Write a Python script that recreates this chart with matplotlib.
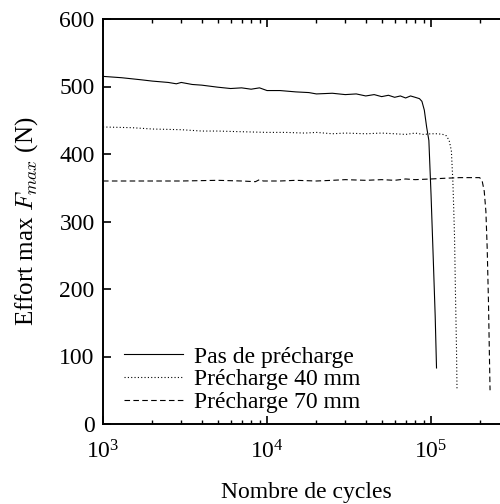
import matplotlib
matplotlib.use('Agg')
import matplotlib.pyplot as plt

plt.rcParams['font.family'] = 'Liberation Serif'
plt.rcParams['mathtext.fontset'] = 'cm'

# Pas de precharge
cyc_0 = [1000, 1300, 1700, 2000, 2500, 2800, 3000, 3500, 4000, 5000, 6000, 7000, 8000,
         9000, 10000, 12000, 15000, 18000, 20000, 25000, 30000, 35000, 40000, 45000,
         50000, 55000, 60000, 65000, 70000, 75000, 80000, 85000, 88000, 91000, 94000,
         97000, 100000, 103000, 106000, 108000]
eff_0 = [515, 513, 510, 508, 506, 504, 506, 503, 502, 499, 497, 498, 496, 498, 494, 494,
         492, 491, 489, 490, 488, 489, 486, 488, 485, 487, 484, 486, 483, 486, 484, 482,
         478, 465, 440, 420, 340, 250, 160, 83]

# Precharge 40 mm
cyc_40 = [1000, 1500, 2000, 3000, 4000, 5000, 7000, 10000, 13000, 17000, 20000, 25000,
          30000, 40000, 50000, 60000, 70000, 80000, 90000, 100000, 110000, 118000,
          124000, 129000, 133000, 136000, 139000, 141000, 143000, 144000]
eff_40 = [440, 439, 437, 436, 434, 434, 433, 432, 432, 431, 432, 430, 431, 430, 431, 430,
          429, 431, 429, 430, 430, 429, 427, 420, 405, 357, 280, 190, 110, 50]

# Precharge 70 mm
cyc_70 = [1000, 2000, 3000, 5000, 7000, 8500, 9000, 9500, 12000, 15000, 20000, 25000,
          30000, 40000, 50000, 60000, 70000, 80000, 100000, 120000, 150000, 180000,
          198000, 205000, 211000, 216000, 220000, 224000, 227000, 229000]
eff_70 = [360, 360, 360, 361, 360, 359, 362, 360, 360, 361, 360, 361, 362, 361, 362, 361,
          363, 362, 363, 364, 365, 365, 365, 360, 345, 315, 260, 180, 100, 50]

labels = ['Pas de précharge', 'Précharge 40 mm', 'Précharge 70 mm']

fig = plt.figure(figsize=(5, 5.04), dpi=100)
ax = fig.add_axes([103/500, 80/504, 407/500, 405/504])

ax.plot(cyc_0, eff_0, color='black', lw=0.8, ls='-', label=labels[0])
ax.plot(cyc_40, eff_40, color='black', lw=0.8, ls=(0, (1, 2)), label=labels[1])
ax.plot(cyc_70, eff_70, color='black', lw=0.8, ls=(0, (5, 3)), label=labels[2])

ax.set_xscale('log')
ax.set_xlim(1e3, 3.03e5)
ax.set_ylim(0, 600)
ax.set_yticks([0, 100, 200, 300, 400, 500, 600])

for s in ax.spines.values():
    s.set_linewidth(1.4)
ax.tick_params(which='both', direction='in', top=True, right=True, labelsize=17)
ax.tick_params(axis='y', pad=6)
ax.tick_params(axis='x', pad=12)
ax.tick_params(which='major', length=6, width=1.2)
ax.tick_params(which='minor', length=3, width=1.0)

ax.set_xlabel('Nombre de cycles', fontsize=17, labelpad=13)
ax.set_ylabel('Effort max $F_{max}$ (N)', fontsize=18, labelpad=14)

ax.legend(loc='lower left', bbox_to_anchor=(0.012, -0.014), frameon=False, fontsize=17,
          handlelength=2.5, handletextpad=0.45, labelspacing=0.05, borderaxespad=0.3)

fig.savefig('out.png', dpi=100)
